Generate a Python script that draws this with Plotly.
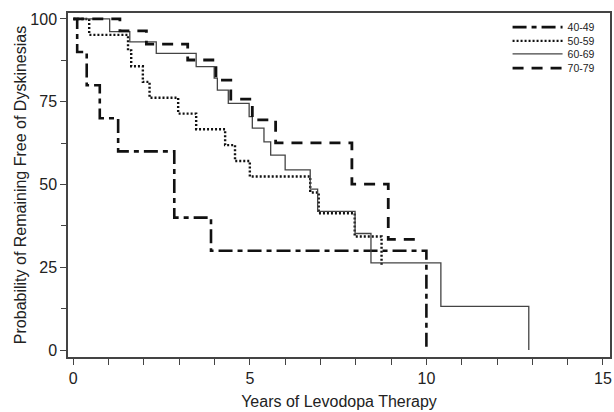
import plotly.graph_objects as go

# Kaplan-Meier step data (years, % free of dyskinesias)
t_40_49 = [0, 0.11, 0.38, 0.75, 1.27, 2.86, 3.90, 10.0]
s_40_49 = [100, 90, 80, 70, 60, 40, 30, 0]

t_50_59 = [0, 0.45, 1.55, 1.64, 1.97, 2.16, 2.97, 3.48, 4.30, 4.58, 5.00, 6.71, 6.95, 7.97, 8.73]
s_50_59 = [100, 95.2, 90.5, 85.7, 81.0, 76.2, 71.4, 66.7, 61.9, 57.1, 52.4, 47.6, 41.3, 34.3, 25.7]

t_60_69 = [0, 1.03, 1.60, 2.35, 3.48, 3.99, 4.08, 4.39, 4.98, 5.07, 5.40, 5.59, 6.00, 6.71, 6.92, 7.98, 8.43, 10.41, 12.9]
s_60_69 = [100, 96.2, 93.1, 89.6, 85.6, 82.1, 78.5, 74.5, 70.5, 67.0, 62.9, 58.9, 54.4, 48.6, 41.9, 35.2, 26.3, 13.2, 0]

t_70_79 = [0, 1.32, 2.07, 3.24, 4.04, 4.46, 5.07, 5.73, 7.89, 8.92, 9.85]
s_70_79 = [100, 96.4, 92.4, 87.6, 81.5, 75.8, 69.5, 62.6, 50.1, 33.4, 33.4]

labels = ["40-49", "50-59", "60-69", "70-79"]
x_ticks = [0, 5, 10, 15]
y_ticks = [0, 25, 50, 75, 100]

FONT = "Liberation Sans, Arial, Helvetica, sans-serif"

fig = go.Figure()
fig.add_trace(go.Scatter(x=t_40_49, y=s_40_49, name=labels[0], mode="lines", legend="legend",
                         line=dict(shape="hv", color="#111", width=2.6, dash="14px,5px,5px,5px")))
fig.add_trace(go.Scatter(x=t_50_59, y=s_50_59, name=labels[1], mode="lines", legend="legend2",
                         line=dict(shape="hv", color="#111", width=2.4, dash="2px,2px")))
fig.add_trace(go.Scatter(x=t_60_69, y=s_60_69, name=labels[2], mode="lines", legend="legend3",
                         line=dict(shape="hv", color="#444", width=1.3)))
fig.add_trace(go.Scatter(x=t_70_79, y=s_70_79, name=labels[3], mode="lines", legend="legend4",
                         line=dict(shape="hv", color="#111", width=2.8, dash="11px,8px")))

axis_common = dict(
    showgrid=False, zeroline=False, showline=True, mirror=True,
    linecolor="#444", linewidth=1.5,
    ticks="outside", ticklen=6, tickwidth=1.2, tickcolor="#444",
    tickfont=dict(family=FONT, size=16, color="#222"),
)

def leg(y):
    return dict(x=0.811, y=y, xanchor="left", yanchor="middle",
                font=dict(family=FONT, size=10.5, color="#222"),
                bgcolor="rgba(0,0,0,0)", itemwidth=50, borderwidth=0)

fig.update_layout(
    width=614, height=412,
    margin=dict(l=68, r=2, t=13, b=55),
    paper_bgcolor="white", plot_bgcolor="white",
    font=dict(family=FONT, color="#222"),
    showlegend=True,
    legend=leg(0.959), legend2=leg(0.919), legend3=leg(0.881), legend4=leg(0.840),
    xaxis=dict(range=[-0.15, 15.2], tickvals=x_ticks,
               minor=dict(dtick=1, ticks="outside", ticklen=6, tickcolor="#444", tickwidth=1.2),
               title=dict(text="Years of Levodopa Therapy", font=dict(family=FONT, size=16, color="#222"), standoff=10),
               **axis_common),
    yaxis=dict(range=[-2.1, 101.8], tickvals=y_ticks,
               minor=dict(dtick=12.5, ticks="outside", ticklen=5, tickcolor="#444", tickwidth=1.2),
               title=dict(text="Probability of Remaining Free of Dyskinesias", font=dict(family=FONT, size=16, color="#222"), standoff=0),
               **axis_common),
)

fig.write_html("out.html")
